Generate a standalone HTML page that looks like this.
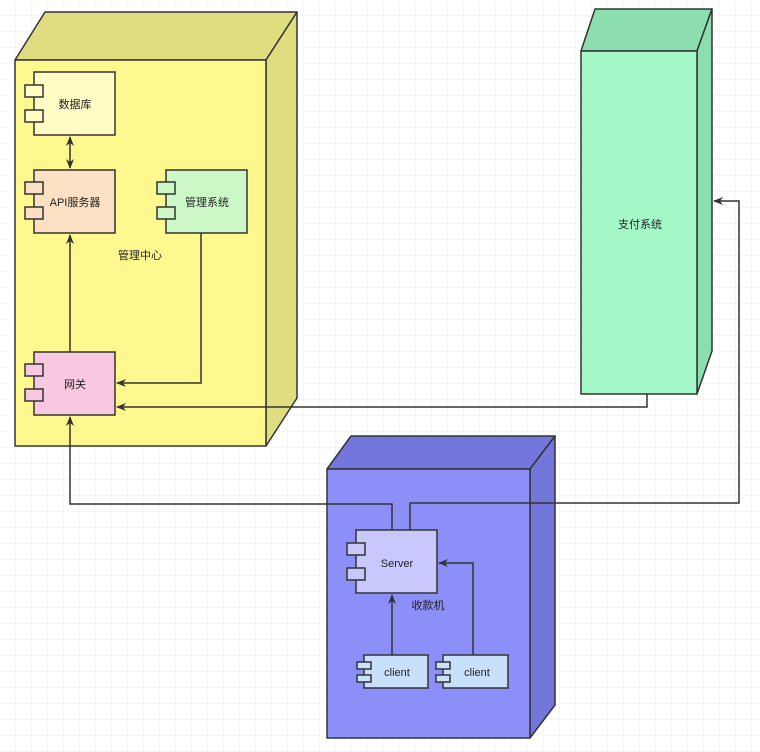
<!DOCTYPE html>
<html><head><meta charset="utf-8"><style>
html,body{margin:0;padding:0;background:#fff;}
svg{display:block}
text{font-family:"Liberation Sans","Noto Sans CJK SC",sans-serif;font-size:11px;fill:#222;}
</style></head><body>
<svg width="760" height="752" viewBox="0 0 760 752" xmlns="http://www.w3.org/2000/svg">
<defs>
<pattern id="g" width="16" height="16" patternUnits="userSpaceOnUse"><path d="M16 0V16H0" fill="none" stroke="#ececec" stroke-width="1"/></pattern>
<marker id="a" markerWidth="10" markerHeight="8" refX="9" refY="4" orient="auto" markerUnits="userSpaceOnUse"><path d="M0 0L10 4L0 8L3 4Z" fill="#333"/></marker>
<marker id="s" markerWidth="10" markerHeight="8" refX="1" refY="4" orient="auto" markerUnits="userSpaceOnUse"><path d="M10 0L0 4L10 8L7 4Z" fill="#333"/></marker>
</defs>
<rect width="760" height="752" fill="url(#g)"/>
<g stroke="#333" stroke-width="1.5" stroke-linejoin="round">
<!-- yellow node -->
<polygon points="15,60 45,12 297,12 266,60" fill="#e0dd80"/>
<polygon points="266,60 297,12 297,398 266,446" fill="#e0dd80"/>
<rect x="15" y="60" width="251" height="386" fill="#fff88f"/>
<!-- green node -->
<polygon points="581,51 595,9 712,9 697,51" fill="#8cdeaf"/>
<polygon points="697,51 712,9 712,351 697,394" fill="#8cdeaf"/>
<rect x="581" y="51" width="116" height="343" fill="#a4f8c8"/>
<!-- blue node -->
<polygon points="327,469 351,436 555,436 530,469" fill="#7377dc"/>
<polygon points="530,469 555,436 555,705 530,738" fill="#7377dc"/>
<rect x="327" y="469" width="203" height="269" fill="#8c8ff8"/>
</g>
<g stroke="#333" stroke-width="1.5">
<!-- components -->
<rect x="34" y="72" width="81" height="63" fill="#fffcc4"/>
<rect x="25" y="85" width="18" height="12" fill="#fffcc4"/><rect x="25" y="110" width="18" height="12" fill="#fffcc4"/>
<rect x="34" y="170" width="81" height="63" fill="#fbe0c4"/>
<rect x="25" y="182" width="18" height="12" fill="#fbe0c4"/><rect x="25" y="207" width="18" height="12" fill="#fbe0c4"/>
<rect x="166" y="170" width="81" height="63" fill="#ccf8c8"/>
<rect x="157" y="182" width="18" height="12" fill="#ccf8c8"/><rect x="157" y="207" width="18" height="12" fill="#ccf8c8"/>
<rect x="34" y="352" width="81" height="63" fill="#f8c8e0"/>
<rect x="25" y="364" width="18" height="12" fill="#f8c8e0"/><rect x="25" y="389" width="18" height="12" fill="#f8c8e0"/>
<rect x="356" y="530" width="81" height="63" fill="#c8c8fc"/>
<rect x="347" y="543" width="18" height="12" fill="#c8c8fc"/><rect x="347" y="568" width="18" height="12" fill="#c8c8fc"/>
<rect x="364" y="655" width="64" height="33" fill="#c8e0fc"/>
<rect x="357" y="662" width="14" height="7" fill="#c8e0fc"/><rect x="357" y="675" width="14" height="7" fill="#c8e0fc"/>
<rect x="443" y="655" width="65" height="33" fill="#c8e0fc"/>
<rect x="436" y="662" width="14" height="7" fill="#c8e0fc"/><rect x="436" y="675" width="14" height="7" fill="#c8e0fc"/>
</g>
<g stroke="#333" stroke-width="1.5" fill="none">
<line x1="70" y1="137" x2="70" y2="168" marker-start="url(#s)" marker-end="url(#a)"/>
<line x1="70" y1="352" x2="70" y2="235" marker-end="url(#a)"/>
<polyline points="201,233 201,383 117,383" marker-end="url(#a)"/>
<polyline points="647,394 647,407 117,407" marker-end="url(#a)"/>
<polyline points="392,530 392,504 70,504 70,417" marker-end="url(#a)"/>
<polyline points="410,530 410,503 739,503 739,201 714,201" marker-end="url(#a)"/>
<line x1="392" y1="655" x2="392" y2="595" marker-end="url(#a)"/>
<polyline points="473,655 473,563 439,563" marker-end="url(#a)"/>
</g>
<text x="75" y="108" text-anchor="middle">数据库</text>
<text x="75" y="206" text-anchor="middle">API服务器</text>
<text x="207" y="206" text-anchor="middle">管理系统</text>
<text x="75" y="388" text-anchor="middle">网关</text>
<text x="140" y="259" text-anchor="middle">管理中心</text>
<text x="640" y="228" text-anchor="middle">支付系统</text>
<text x="397" y="567" text-anchor="middle">Server</text>
<text x="428" y="609" text-anchor="middle">收款机</text>
<text x="397" y="676" text-anchor="middle">client</text>
<text x="477" y="676" text-anchor="middle">client</text>
</svg>
</body></html>
